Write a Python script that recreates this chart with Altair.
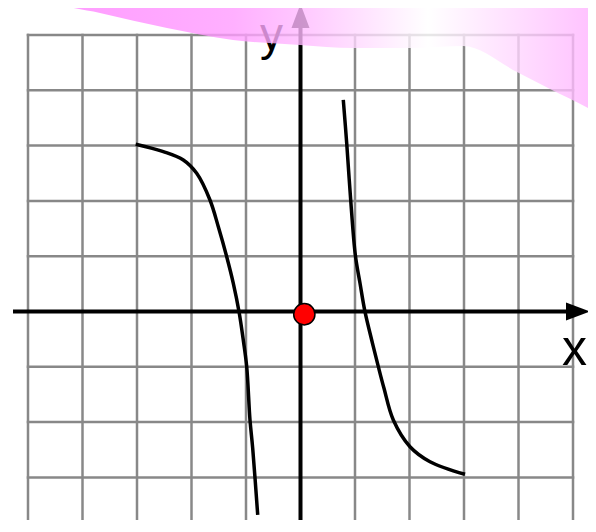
import altair as alt
import pandas as pd

# Curve branches (data coordinates)
left_x = [-3.024, -2.517, -2.150, -1.905, -1.661, -1.508, -1.354, -1.233, -1.128, -1.050, -0.987, -0.927, -0.877, -0.785]
left_y = [3.024, 2.890, 2.740, 2.499, 2.016, 1.533, 0.991, 0.510, -0.004, -0.515, -0.998, -1.962, -2.474, -3.680]
right_x = [0.785, 0.848, 0.921, 1.006, 1.092, 1.183, 1.306, 1.428, 1.532, 1.703, 2.009, 2.376, 3.018]
right_y = [3.825, 3.042, 2.016, 1.022, 0.510, -0.004, -0.515, -0.998, -1.389, -1.962, -2.445, -2.716, -2.944]

# Grid
grid_x = list(range(-5, 6))
grid_y = list(range(-4, 6))
grid_x_span = [-5, 5]
grid_y_span = [-4.6, 5]

# Axes
x_axis_span = [-5.275, 5.0]
y_axis_span = [-4.6, 5.2]
x_arrow = [5.092, 0.0]
y_arrow = [0.0, 5.344]

# Red point
point_x = [0.07]
point_y = [-0.05]

# Labels
label_text = ["y", "x"]
label_x = [-0.532, 4.80]
label_y = [4.729, -0.967]

# Decorative pink band (lower edge; top runs off the chart)
blob_x = [-4.8, -4.596, -3.679, -2.450, -1.239, -0.009, 0.963, 2.009, 2.982, 3.972, 4.578, 5.422, 5.7]
blob_y = [5.9, 5.632, 5.397, 5.126, 4.910, 4.819, 4.765, 4.765, 4.801, 4.332, 4.025, 3.592, 3.4]
blob_top = 6.5

W, H = 580, 512
xs = alt.Scale(domain=[-5.367, -5.367 + W / 54.5], nice=False, zero=False)
ys = alt.Scale(domain=[5.488 - H / 55.3, 5.488], nice=False, zero=False)

def X(f):
    return alt.X(f, type="quantitative", scale=xs, axis=None)

def Y(f):
    return alt.Y(f, type="quantitative", scale=ys, axis=None)

vgrid = pd.DataFrame({"x": grid_x, "y1": grid_y_span[0], "y2": grid_y_span[1]})
hgrid = pd.DataFrame({"y": grid_y, "x1": grid_x_span[0], "x2": grid_x_span[1]})

grid_v = alt.Chart(vgrid).mark_rule(color="#888888", strokeWidth=2.5, strokeCap="square").encode(
    x=X("x"), y=Y("y1"), y2="y2")
grid_h = alt.Chart(hgrid).mark_rule(color="#888888", strokeWidth=2.5, strokeCap="square").encode(
    y=Y("y"), x=X("x1"), x2="x2")

xaxis = alt.Chart(pd.DataFrame({"x1": [x_axis_span[0]], "x2": [x_axis_span[1]], "y": [0.0]})).mark_rule(
    color="black", strokeWidth=4).encode(x=X("x1"), x2="x2", y=Y("y"))
yaxis = alt.Chart(pd.DataFrame({"y1": [y_axis_span[0]], "y2": [y_axis_span[1]], "x": [0.0]})).mark_rule(
    color="black", strokeWidth=4).encode(y=Y("y1"), y2="y2", x=X("x"))

xarrow = alt.Chart(pd.DataFrame({"x": [x_arrow[0]], "y": [x_arrow[1]]})).mark_point(
    shape="M1,0 L-1,-0.75 L-1,0.75 Z", filled=True, color="black", opacity=1, size=576).encode(
    x=X("x"), y=Y("y"))
yarrow = alt.Chart(pd.DataFrame({"x": [y_arrow[0]], "y": [y_arrow[1]]})).mark_point(
    shape="M0,-1 L-0.75,1 L0.75,1 Z", filled=True, color="black", opacity=1, size=576).encode(
    x=X("x"), y=Y("y"))

curves_df = pd.concat([
    pd.DataFrame({"x": left_x, "y": left_y, "branch": "left", "i": range(len(left_x))}),
    pd.DataFrame({"x": right_x, "y": right_y, "branch": "right", "i": range(len(right_x))}),
])
curves = alt.Chart(curves_df).mark_line(color="black", strokeWidth=3.5, interpolate="catmull-rom").encode(
    x=X("x"), y=Y("y"), detail="branch:N", order="i:Q")

dot = alt.Chart(pd.DataFrame({"x": point_x, "y": point_y})).mark_point(
    shape="circle", filled=True, fill="#ff0000", stroke="black", strokeWidth=1.5, opacity=1, size=452).encode(
    x=X("x"), y=Y("y"))

labels_df = pd.DataFrame({"t": label_text, "x": label_x, "y": label_y})
label_y_chart = alt.Chart(labels_df[labels_df.t == "y"]).mark_text(
    font="Liberation Sans", fontSize=46, color="black", align="center", baseline="alphabetic").encode(
    x=X("x"), y=Y("y"), text="t:N")
label_x_chart = alt.Chart(labels_df[labels_df.t == "x"]).mark_text(
    font="Liberation Sans", fontSize=50, color="black", align="left", baseline="alphabetic").encode(
    x=X("x"), y=Y("y"), text="t:N")

blob_df = pd.DataFrame({"x": blob_x, "y": blob_y, "top": blob_top})
blob = alt.Chart(blob_df).mark_area(
    interpolate="monotone",
    opacity=0.8,
    color=alt.Gradient(
        gradient="linear",
        stops=[
            alt.GradientStop(color="#ff80ff", offset=0),
            alt.GradientStop(color="#ff9cff", offset=0.34),
            alt.GradientStop(color="#ffbaff", offset=0.46),
            alt.GradientStop(color="#ffffff", offset=0.68),
            alt.GradientStop(color="#ffaaff", offset=1),
        ],
        x1=0, x2=1, y1=0, y2=0,
    ),
).encode(x=X("x"), y=Y("y"), y2="top:Q")

chart = alt.layer(
    grid_v, grid_h, xaxis, yaxis, xarrow, yarrow, curves, dot, label_y_chart, label_x_chart, blob
).properties(
    width=W, height=H, padding=0,
    autosize=alt.AutoSizeParams(type="none"),
    background="white",
).configure_view(stroke=None)

chart.save("out.html", embed_options={"renderer": "svg", "actions": False})
